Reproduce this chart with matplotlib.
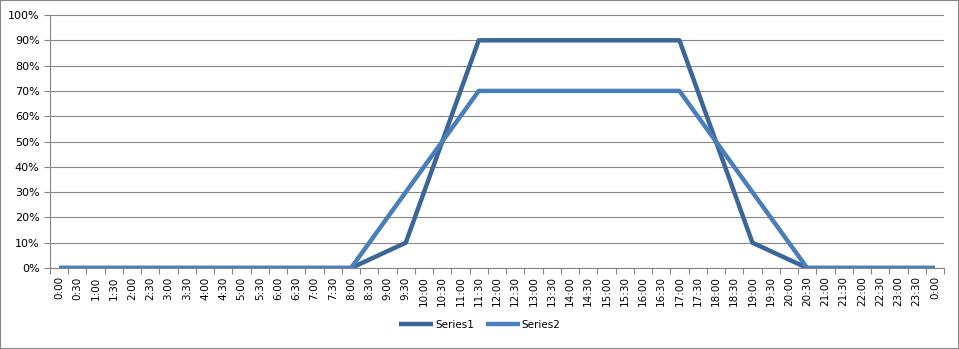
import matplotlib
matplotlib.use('Agg')
import matplotlib.pyplot as plt
from matplotlib.patches import Rectangle

# x labels every 30 min, 0:00 .. 0:00
labels = []
for h in range(24):
    labels.append('%d:00' % h)
    labels.append('%d:30' % h)
labels.append('0:00')

# key points (hours, percent)
hours = [0, 8, 9.5, 11.5, 17, 19, 20.5, 24]
series1 = [0, 0, 10, 90, 90, 10, 0, 0]
series2 = [0, 0, 30, 70, 70, 30, 0, 0]

grid_col = '#868686'

fig = plt.figure(figsize=(9.59, 3.49), dpi=100)
ax = fig.add_axes([50/959, 1-268/349, 894/959, 253/349])

x = [h*2 for h in hours]
ax.plot(x, series1, color='#3A6699', lw=3.2, solid_capstyle='butt', label='Series1', zorder=3)
ax.plot(x, series2, color='#4A7EBB', lw=3.2, solid_capstyle='butt', label='Series2', zorder=3)

ax.set_xlim(-0.5, len(labels)-0.5)
ax.set_ylim(0, 100)
ax.set_yticks(range(0, 101, 10))
ax.set_yticklabels(['%d%%' % v for v in range(0, 101, 10)])
ax.yaxis.grid(True, color=grid_col, lw=0.8)
ax.set_axisbelow(True)

ax.set_xticks(range(len(labels)))
ax.set_xticklabels(labels, rotation=90, fontsize=7.5)
ax.set_xticks([i-0.5 for i in range(len(labels)+1)], minor=True)
ax.tick_params(axis='x', which='major', length=0, pad=6)
ax.tick_params(axis='x', which='minor', length=4, color=grid_col, width=0.8)
ax.tick_params(axis='y', length=4, color=grid_col, width=0.8, labelsize=8)

for s in ['top', 'right']:
    ax.spines[s].set_visible(False)
for s in ['left', 'bottom']:
    ax.spines[s].set_color(grid_col)
    ax.spines[s].set_linewidth(0.8)

fig.legend(loc='center', bbox_to_anchor=(480/959, 1-325/349), ncol=2, frameon=False,
           fontsize=7.5, handlelength=3.2, columnspacing=1.2, handletextpad=0.2)

fig.patches.append(Rectangle((0, 0), 1, 1, transform=fig.transFigure, fill=False,
                             edgecolor=grid_col, lw=1.5))

fig.savefig('out.png', dpi=100)
